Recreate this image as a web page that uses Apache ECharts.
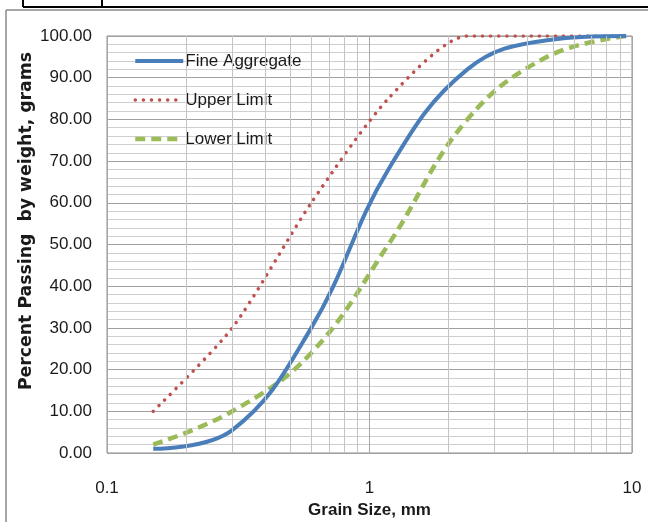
<!DOCTYPE html>
<html>
<head>
<meta charset="utf-8">
<script src="https://cdn.jsdelivr.net/npm/echarts@6/dist/echarts.min.js"></script>
<style>
html,body{margin:0;padding:0;background:#fff;}
#c{width:648px;height:522px;}
</style>
</head>
<body>
<div id="c"></div>
<script>
// Sieve sizes (mm)
var sieveSizes = [0.15, 0.3, 0.6, 1.18, 2.36, 4.75, 9.5];
// Percent passing
var fineAggregate = [1, 5.5, 30, 68, 92, 99, 100];
var upperLimit = [10, 30, 60, 85, 100, 100, 100];
var lowerLimit = [2, 10, 24, 50, 80, 95, 100];
// Minor vertical gridlines on the log axis
var minorGridX = [0.2, 0.3, 0.4, 0.5, 0.6, 0.7, 0.8, 0.9, 2, 3, 4, 5, 6, 7, 8, 9];
var yMin = 0, yMax = 100, yStep = 10;
var yTitle = 'Percent Passing  by weight, grams';
var xTitle = 'Grain Size, mm';

function pairs(xs, ys) { return xs.map(function (x, i) { return [x, ys[i]]; }); }

var sans = '"Liberation Sans", Arial, sans-serif';
var blue = '#4a7ebb', red = '#c0504d', green = '#9bbb59';

var chart = echarts.init(document.getElementById('c'), null, { renderer: 'canvas' });
chart.setOption({
  animation: false,
  backgroundColor: '#ffffff',
  grid: { left: 107, right: 16, top: 36, bottom: 69, outerBoundsMode: 'none', containLabel: false, show: true, borderColor: '#8c8c8c', borderWidth: 1, backgroundColor: '#ffffff' },
  legend: {
    orient: 'vertical', left: 133, top: 51, padding: 0,
    itemWidth: 48, itemHeight: 20, itemGap: 19,
    itemStyle: { opacity: 0 },
    textStyle: { fontFamily: sans, fontSize: 17, color: '#1a1a1a', lineHeight: 20, padding: [0, 0, 0, -3] },
    data: [
      { name: 'Fine Aggregate', lineStyle: { width: 4, color: blue } },
      { name: 'Upper Limit', lineStyle: { width: 3.5, color: red, type: [0.1, 8], cap: 'round' } },
      { name: 'Lower Limit', lineStyle: { width: 4.5, color: green, type: [10, 6] } }
    ]
  },
  xAxis: {
    type: 'log', logBase: 10, min: 0.1, max: 10,
    name: xTitle, nameLocation: 'middle', nameGap: 49,
    nameTextStyle: { fontFamily: sans, fontWeight: 'bold', fontSize: 17, color: '#1a1a1a' },
    axisLine: { show: false }, axisTick: { show: false },
    axisLabel: { fontFamily: sans, fontSize: 17, color: '#1a1a1a', margin: 27, formatter: function (v) { return String(+v.toPrecision(3)); } },
    splitLine: { show: true, lineStyle: { color: '#a6a6a6', width: 1 } }
  },
  yAxis: {
    type: 'value', min: yMin, max: yMax, interval: yStep,
    axisLine: { show: false }, axisTick: { show: false },
    axisLabel: { fontFamily: sans, fontSize: 17, color: '#1a1a1a', margin: 15, formatter: function (v) { return v.toFixed(2); } },
    splitLine: { show: true, lineStyle: { color: '#a0a0a0', width: 1 } },
    minorTick: { show: false, splitNumber: 5 },
    minorSplitLine: { show: true, lineStyle: { color: '#cfcfcf', width: 1 } }
  },
  graphic: [
    { type: 'line', shape: { x1: 23, y1: 7, x2: 648, y2: 7 }, style: { stroke: '#000', lineWidth: 2 }, silent: true },
    { type: 'line', shape: { x1: 23, y1: 0, x2: 23, y2: 7 }, style: { stroke: '#000', lineWidth: 2 }, silent: true },
    { type: 'line', shape: { x1: 102, y1: 0, x2: 102, y2: 7 }, style: { stroke: '#000', lineWidth: 2 }, silent: true },
    { type: 'line', shape: { x1: 6, y1: 10, x2: 648, y2: 10 }, style: { stroke: '#8a8a8a', lineWidth: 1.5 }, silent: true },
    { type: 'line', shape: { x1: 6, y1: 10, x2: 6, y2: 522 }, style: { stroke: '#8a8a8a', lineWidth: 1.5 }, silent: true },
    {
      type: 'text', x: 27, y: 221, rotation: Math.PI / 2, silent: true,
      style: { text: yTitle, fontFamily: '"DejaVu Sans", sans-serif', fontWeight: 'bold', fontSize: 17.3, fill: '#1a1a1a', align: 'center', verticalAlign: 'middle' }
    }
  ],
  series: [
    {
      name: 'minorX', type: 'line', data: [], z: 1, silent: true,
      markLine: {
        silent: true, symbol: ['none', 'none'], label: { show: false }, animation: false,
        lineStyle: { color: '#c4c4c4', width: 1, type: 'solid' },
        data: minorGridX.map(function (x) { return { xAxis: x }; })
      }
    },
    {
      name: 'Fine Aggregate', type: 'line', data: pairs(sieveSizes, fineAggregate),
      smooth: 0.4, symbol: 'none', z: 4,
      lineStyle: { color: blue, width: 4 }, itemStyle: { color: blue }
    },
    {
      name: 'Upper Limit', type: 'line', data: pairs(sieveSizes, upperLimit),
      smooth: 0.25, symbol: 'none', z: 3,
      lineStyle: { color: red, width: 3.5, type: [0.1, 8], cap: 'round' }, itemStyle: { color: red }
    },
    {
      name: 'Lower Limit', type: 'line', data: pairs(sieveSizes, lowerLimit),
      smooth: 0.4, symbol: 'none', z: 3,
      lineStyle: { color: green, width: 4.5, type: [10, 6] }, itemStyle: { color: green }
    }
  ]
});
</script>
</body>
</html>
